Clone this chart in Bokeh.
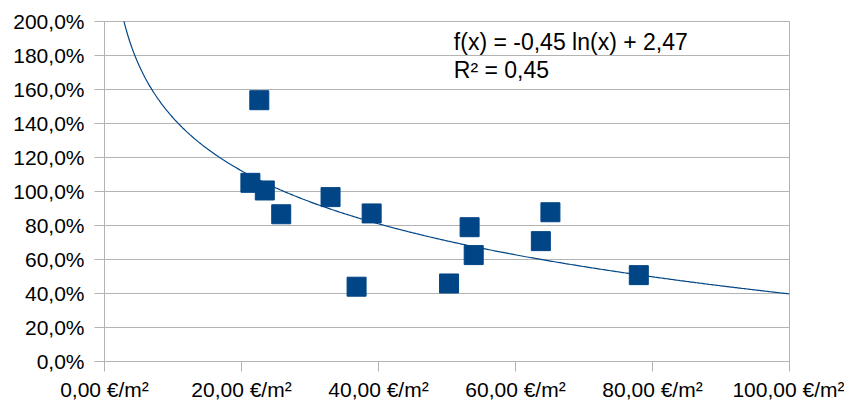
import numpy as np
from bokeh.plotting import figure
from bokeh.models import Range1d, FixedTicker, Label
from bokeh.embed import file_html
from bokeh.resources import INLINE

# ---- data ----
price = [22.6, 21.3, 23.4, 25.8, 33.0, 36.8, 39.0, 50.3, 53.3, 53.9, 63.7, 65.1, 78.0]   # €/m²
ratio = [153.7, 105.1, 100.6, 86.6, 96.7, 44.0, 87.1, 45.9, 79.0, 62.6, 70.8, 87.8, 50.8]  # %

x_ticks = [0, 20, 40, 60, 80, 100]
x_tick_labels = ["0,00 €/m²", "20,00 €/m²", "40,00 €/m²", "60,00 €/m²", "80,00 €/m²", "100,00 €/m²"]
y_ticks = [0, 20, 40, 60, 80, 100, 120, 140, 160, 180, 200]
y_tick_labels = ["0,0%", "20,0%", "40,0%", "60,0%", "80,0%", "100,0%", "120,0%",
                 "140,0%", "160,0%", "180,0%", "200,0%"]

# logarithmic trend line f(x) = a ln(x) + b  (as shown on the chart)
trend_a = -0.45
trend_b = 2.47
trend_text = ["f(x) = -0,45 ln(x) + 2,47", "R² = 0,45"]

BLUE = "#004586"
GRID = "#b3b3b3"
FONT = "Liberation Sans"

p = figure(width=844, height=403, output_backend="svg", toolbar_location=None,
           x_range=Range1d(0, 100), y_range=Range1d(0, 200),
           min_border_left=104, min_border_right=55, min_border_top=21, min_border_bottom=41)
p.background_fill_color = "white"
p.border_fill_color = "white"
p.outline_line_color = GRID

# trend curve
tx = np.linspace(0.5, 100, 500)
ty = 100 * (trend_a * np.log(tx) + trend_b)
p.line(tx, ty, line_color=BLUE, line_width=1.2)

# scatter
p.scatter(price, ratio, marker="square", size=19, fill_color=BLUE, line_color=BLUE)

# axes
p.xaxis.ticker = FixedTicker(ticks=x_ticks)
p.xaxis.major_label_overrides = dict(zip(x_ticks, x_tick_labels))
p.yaxis.ticker = FixedTicker(ticks=y_ticks)
p.yaxis.major_label_overrides = dict(zip(y_ticks, y_tick_labels))

for ax in (p.xaxis[0], p.yaxis[0]):
    ax.axis_line_color = GRID
    ax.major_tick_line_color = GRID
    ax.major_tick_out = 10
    ax.major_tick_in = 0
    ax.minor_tick_line_color = None
    ax.major_label_text_font = FONT
    ax.major_label_text_font_size = "21px"
    ax.major_label_text_color = "#000000"
p.xaxis.major_label_standoff = 6
p.yaxis.major_label_standoff = 10

p.xgrid.visible = False
p.ygrid.ticker = FixedTicker(ticks=y_ticks)
p.ygrid.grid_line_color = GRID

# equation text
for txt, yy in zip(trend_text, [187.7, 171.3]):
    p.add_layout(Label(x=51.0, y=yy, text=txt, text_baseline="alphabetic",
                       text_font=FONT, text_font_size="23px", text_color="#000000"))

open("out.html", "w").write(file_html(p, INLINE))
